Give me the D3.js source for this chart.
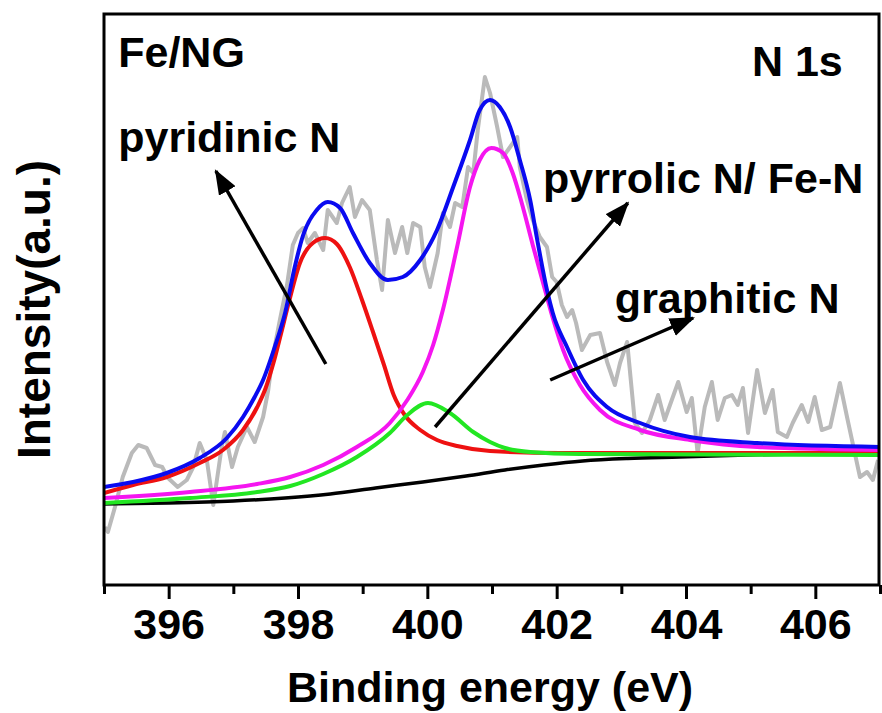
<!DOCTYPE html>
<html>
<head>
<meta charset="utf-8">
<script src="https://cdn.jsdelivr.net/npm/d3@7"></script>
<style>
  body { margin: 0; background: #fff; }
  svg { display: block; font-family: "Liberation Sans", Arial, sans-serif; font-weight: bold; }
</style>
</head>
<body>
<div id="chart"></div>
<script>
// Raw N 1s spectrum (binding energy eV, intensity a.u.)
const rawData = [
  [395.01, 58], [395.06, 53], [395.17, 78], [395.29, 108], [395.43, 132], [395.53, 140],
  [395.66, 137], [395.79, 120], [395.90, 118], [395.99, 107], [396.14, 98], [396.28, 105],
  [396.38, 118], [396.48, 142], [396.59, 125], [396.69, 80], [396.82, 138], [396.87, 153],
  [396.98, 118], [397.07, 138], [397.21, 158], [397.33, 143], [397.46, 168], [397.54, 195],
  [397.60, 225], [397.72, 265], [397.83, 300], [397.92, 340], [398.00, 352], [398.08, 357],
  [398.15, 342], [398.26, 352], [398.39, 335], [398.46, 375], [398.60, 362], [398.68, 382],
  [398.80, 398], [398.88, 368], [398.99, 385], [399.11, 375], [399.22, 325], [399.30, 295],
  [399.39, 365], [399.50, 332], [399.61, 358], [399.69, 332], [399.78, 362], [399.89, 358],
  [399.96, 318], [400.04, 298], [400.16, 332], [400.24, 372], [400.35, 358], [400.43, 382],
  [400.54, 378], [400.63, 418], [400.71, 412], [400.78, 455], [400.89, 508], [400.97, 492],
  [401.08, 458], [401.17, 428], [401.28, 438], [401.39, 448], [401.43, 418], [401.54, 385],
  [401.63, 365], [401.74, 348], [401.85, 338], [401.93, 308], [402.00, 303], [402.08, 280],
  [402.16, 268], [402.24, 275], [402.30, 262], [402.39, 235], [402.52, 250], [402.67, 252],
  [402.78, 223], [402.90, 200], [402.98, 222], [403.09, 243], [403.21, 162], [403.32, 152],
  [403.44, 165], [403.57, 190], [403.67, 165], [403.78, 185], [403.88, 203], [404.01, 173],
  [404.09, 187], [404.18, 132], [404.29, 178], [404.40, 203], [404.49, 165], [404.60, 187],
  [404.71, 190], [404.80, 180], [404.88, 197], [404.96, 152], [405.10, 215], [405.22, 172],
  [405.34, 195], [405.42, 153], [405.56, 148], [405.65, 162], [405.79, 180], [405.89, 163],
  [405.99, 188], [406.10, 155], [406.23, 158], [406.38, 202], [406.50, 165], [406.61, 132],
  [406.69, 108], [406.80, 113], [406.89, 105], [406.97, 125]
];

// Shirley background
const background = [
  [395.0, 81], [396.0, 82], [397.0, 84], [397.8, 87], [398.5, 91], [399.2, 97],
  [399.93, 103], [400.6, 109], [401.2, 115], [401.8, 120], [402.4, 124], [403.1, 126.5],
  [403.9, 128], [404.94, 130], [407.0, 132]
];

// pyridinic N component
const pyridinic = [
  [395.0, 92], [395.45, 100], [395.97, 108], [396.48, 122], [396.84, 135], [397.15, 155],
  [397.37, 178], [397.50, 197], [397.62, 222], [397.74, 252], [397.86, 283], [398.03, 322],
  [398.23, 342], [398.42, 347], [398.60, 341], [398.80, 318], [398.99, 285], [399.16, 253],
  [399.33, 220], [399.48, 190], [399.65, 170], [399.89, 155], [400.15, 145], [400.46, 139],
  [400.97, 134], [402.05, 132], [407.0, 132]
];

// pyrrolic N / Fe-N component
const pyrrolic = [
  [395.0, 87], [396.33, 93], [397.37, 101], [397.88, 108], [398.39, 120], [398.91, 138],
  [399.42, 162], [399.69, 185], [399.93, 213], [400.09, 240], [400.24, 275], [400.46, 338],
  [400.66, 398], [400.81, 425], [400.99, 437], [401.17, 432], [401.32, 412], [401.46, 382],
  [401.63, 340], [401.82, 295], [401.94, 267], [402.10, 235], [402.36, 200], [402.67, 175],
  [403.29, 155], [404.06, 145], [405.10, 138], [407.0, 135]
];

// graphitic N component
const graphitic = [
  [395.0, 82], [396.33, 87], [397.37, 93], [397.88, 99], [398.39, 111], [398.91, 128],
  [399.42, 152], [399.69, 170], [400.01, 182], [400.35, 172], [400.71, 153], [400.97, 143],
  [401.20, 137], [401.59, 133], [402.36, 131], [407.0, 130]
];

// fitted envelope
const envelope = [
  [395.0, 98], [395.45, 103], [395.97, 112], [396.48, 127], [396.90, 147], [397.15, 168],
  [397.33, 188], [397.46, 205], [397.64, 238], [397.80, 272], [397.95, 318], [398.08, 350],
  [398.29, 375], [398.46, 383], [398.65, 377], [398.85, 352], [399.11, 322], [399.39, 305],
  [399.62, 308], [399.89, 325], [400.15, 355], [400.40, 398], [400.66, 445], [400.81, 475],
  [400.97, 485], [401.12, 478], [401.28, 458], [401.43, 425], [401.59, 385], [401.70, 345],
  [401.85, 295], [401.94, 272], [402.16, 238], [402.41, 205], [402.78, 178], [403.29, 162],
  [404.06, 148], [405.10, 142], [407.0, 138]
];

const majorTicks = [396, 398, 400, 402, 404, 406];
const minorTicks = [395, 397, 399, 401, 403, 405, 407];

// annotation texts: [label, energy, intensity]
const labels = [
  ["Fe/NG", 395.22, 518],
  ["pyridinic N", 395.22, 433],
  ["N 1s", 405.02, 509],
  ["pyrrolic N/ Fe-N", 401.79, 392],
  ["graphitic N", 402.90, 272]
];

// arrows: [tailE, tailI, headE, headI]
const arrows = [
  [398.43, 221, 396.73, 414],
  [400.12, 158, 403.10, 382],
  [401.90, 205, 404.11, 267]
];

const width = 882, height = 713;
const margin = { top: 14, right: 2, bottom: 128, left: 104 };

const svg = d3.select("#chart").append("svg")
  .attr("width", width)
  .attr("height", height);

const x = d3.scaleLinear()
  .domain([395, 407])
  .range([margin.left, width - margin.right]);

const y = d3.scaleLinear()
  .domain([0, 571])
  .range([height - margin.bottom, margin.top]);

const defs = svg.append("defs");
defs.append("clipPath").attr("id", "plotClip")
  .append("rect")
  .attr("x", margin.left).attr("y", margin.top)
  .attr("width", width - margin.left - margin.right)
  .attr("height", height - margin.top - margin.bottom);

defs.append("marker")
  .attr("id", "arrowHead")
  .attr("viewBox", "0 0 25 19")
  .attr("refX", 23).attr("refY", 9.5)
  .attr("markerWidth", 25).attr("markerHeight", 19)
  .attr("markerUnits", "userSpaceOnUse")
  .attr("orient", "auto")
  .append("path")
  .attr("d", "M0,0 L25,9.5 L0,19 Z")
  .attr("fill", "#000");

const plot = svg.append("g").attr("clip-path", "url(#plotClip)");

const rawLine = d3.line().x(d => x(d[0])).y(d => y(d[1]));
const fitLine = d3.line().x(d => x(d[0])).y(d => y(d[1])).curve(d3.curveMonotoneX);

plot.append("path").datum(rawData)
  .attr("d", rawLine)
  .attr("fill", "none").attr("stroke", "#bababa").attr("stroke-width", 4)
  .attr("stroke-linejoin", "round");

const fits = [
  { data: background, color: "#000000", w: 3.5 },
  { data: pyridinic, color: "#ee1111", w: 4 },
  { data: pyrrolic, color: "#f515f0", w: 4 },
  { data: graphitic, color: "#22e622", w: 4 },
  { data: envelope, color: "#0a0af0", w: 4 }
];

plot.selectAll(".fit").data(fits).enter()
  .append("path")
  .attr("class", "fit")
  .attr("d", d => fitLine(d.data))
  .attr("fill", "none")
  .attr("stroke", d => d.color)
  .attr("stroke-width", d => d.w);

// axes
const xAxis = svg.append("g")
  .attr("transform", `translate(0,${y(0)})`)
  .call(d3.axisBottom(x).tickValues(majorTicks).tickSize(14).tickPadding(9).tickFormat(d3.format("d")));

svg.append("g")
  .attr("transform", `translate(0,${y(0)})`)
  .call(d3.axisBottom(x).tickValues(minorTicks).tickSize(9).tickFormat(""))
  .call(g => g.select(".domain").remove());

xAxis.select(".domain").remove();
svg.selectAll(".tick line").attr("stroke", "#000").attr("stroke-width", 3);
xAxis.selectAll(".tick text")
  .attr("fill", "#000")
  .style("font-size", "43px")
  .style("font-weight", "bold")
  .style("font-family", "'Liberation Sans', Arial, sans-serif");

// frame
svg.append("rect")
  .attr("x", x(395)).attr("y", y(571))
  .attr("width", x(407) - x(395) - 1)
  .attr("height", y(0) - y(571))
  .attr("fill", "none").attr("stroke", "#000").attr("stroke-width", 3);

// axis titles
svg.append("text")
  .attr("x", (x(395) + x(407)) / 2 - 2)
  .attr("y", 702)
  .attr("text-anchor", "middle")
  .style("font-size", "43px")
  .text("Binding energy (eV)");

svg.append("text")
  .attr("transform", `translate(50,${(y(0) + y(571)) / 2 + 10}) rotate(-90)`)
  .attr("text-anchor", "middle")
  .style("font-size", "46px")
  .text("Intensity(a.u.)");

// annotations
svg.selectAll(".label").data(labels).enter()
  .append("text")
  .attr("class", "label")
  .attr("x", d => x(d[1]))
  .attr("y", d => y(d[2]))
  .style("font-size", "43px")
  .text(d => d[0]);

svg.selectAll(".arrow").data(arrows).enter()
  .append("line")
  .attr("class", "arrow")
  .attr("x1", d => x(d[0])).attr("y1", d => y(d[1]))
  .attr("x2", d => x(d[2])).attr("y2", d => y(d[3]))
  .attr("stroke", "#000").attr("stroke-width", 3.5)
  .attr("marker-end", "url(#arrowHead)");
</script>
</body>
</html>
